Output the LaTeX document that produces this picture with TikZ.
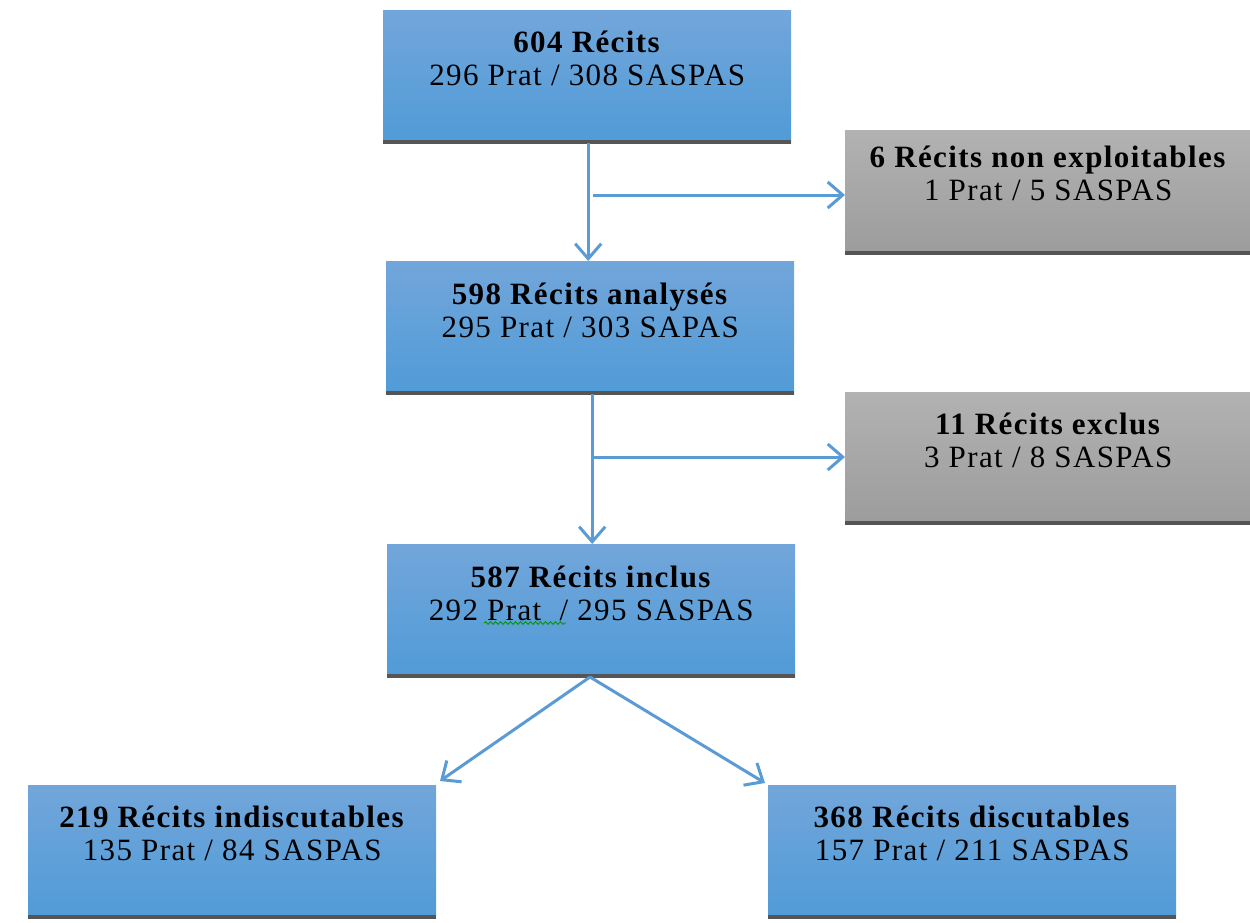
\documentclass[tikz,border=0pt]{standalone}
\usepackage{fontspec}
\setmainfont{Liberation Serif}[LetterSpace=4.5]
\usetikzlibrary{arrows.meta,decorations.pathmorphing}
\definecolor{bluetop}{RGB}{114,166,218}
\definecolor{bluebot}{RGB}{80,155,216}
\definecolor{graytop}{RGB}{178,178,178}
\definecolor{graybot}{RGB}{156,156,156}
\definecolor{darkline}{RGB}{85,85,85}
\definecolor{arrowblue}{RGB}{91,155,213}
\tikzset{
  boxbase/.style={anchor=north west, inner sep=0pt, minimum width=408pt, minimum height=133pt,
    path picture={\draw[line width=7pt,darkline] (path picture bounding box.south west) -- (path picture bounding box.south east);}},
  bluebox/.style={boxbase, top color=bluetop, bottom color=bluebot},
  graybox/.style={boxbase, top color=graytop, bottom color=graybot, minimum width=406pt},
  boxtext/.style={anchor=north, align=center, inner sep=0pt, font=\fontsize{31}{33}\selectfont, text=black},
  flow/.style={draw=arrowblue, line width=3pt, -{Straight Barb[length=15pt,width=26pt,line width=3pt]}},
}
\begin{document}
\begin{tikzpicture}[x=1pt,y=-1pt]
\useasboundingbox (0,0) rectangle (1250,923);
% boxes
\node[bluebox] (b1) at (383,10) {};
\node[graybox, minimum height=124pt] (g1) at (845,130) {};
\node[bluebox] (b2) at (386,261) {};
\node[graybox, minimum height=132pt] (g2) at (845,392) {};
\node[bluebox] (b3) at (387,544) {};
\node[bluebox] (b4) at (28,785) {};
\node[bluebox] (b5) at (768,785) {};
% texts
\node[boxtext] (t1) at ([yshift=-21pt]b1.north) {\textbf{604 Récits}\\296 Prat / 308 SASPAS};
\node[boxtext] (tg1) at ([yshift=-16pt]g1.north) {\textbf{6 Récits non exploitables}\\1 Prat / 5 SASPAS};
\node[boxtext] (t2) at ([yshift=-22pt]b2.north) {\textbf{598 Récits analysés}\\295 Prat / 303 SAPAS};
\node[boxtext] (tg2) at ([yshift=-21pt]g2.north) {\textbf{11 Récits exclus}\\3 Prat / 8 SASPAS};
\node[boxtext] (t3) at ([yshift=-22pt]b3.north) {\textbf{587 Récits inclus}\\292 Prat\ \ / 295 SASPAS};
\node[boxtext] (t4) at ([yshift=-21pt]b4.north) {\textbf{219 Récits indiscutables}\\135 Prat / 84 SASPAS};
\node[boxtext] (t5) at ([yshift=-21pt]b5.north) {\textbf{368 Récits discutables}\\157 Prat / 211 SASPAS};
% spell-check underline
\coordinate (w1) at (484,623);
\coordinate (w2) at (566,623);
\draw[green!60!black, line width=0.9pt, decorate, decoration={snake, amplitude=1.3pt, segment length=5pt}] (w1) -- (w2);
% connectors
\draw[flow] ([xshift=1pt]b1.south) -- ([xshift=1pt]b1.south |- b2.north);
\coordinate (c1) at (593,195);
\draw[flow] (c1) -- (g1.west |- c1);
\draw[flow] ([xshift=2pt]b2.south) -- ([xshift=2pt]b2.south |- b3.north);
\coordinate (c2) at (594,457);
\draw[flow] (c2) -- (g2.west |- c2);
\coordinate (d0) at (590,677);
\coordinate (d1) at (440,781);
\coordinate (d2) at (765,783);
\draw[flow] (d0) -- (d1);
\draw[flow] (d0) -- (d2);
\end{tikzpicture}
\end{document}
